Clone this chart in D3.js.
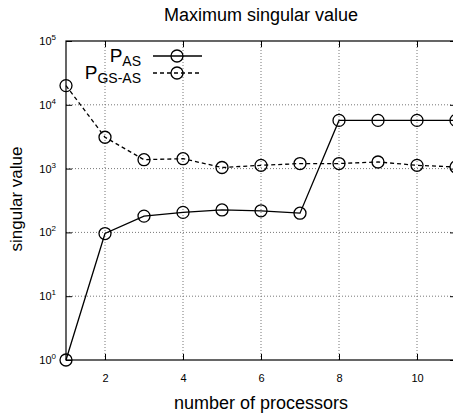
<!DOCTYPE html>
<html>
<head>
<meta charset="utf-8">
<script src="https://cdn.jsdelivr.net/npm/d3@7"></script>
<style>
  body { margin: 0; background: #fff; }
  svg { display: block; font-family: "Liberation Sans", Arial, sans-serif; }
</style>
</head>
<body>
<div id="chart"></div>
<script>
//----------------------------
// Data
//----------------------------

var processors = [1, 2, 3, 4, 5, 6, 7, 8, 9, 10, 11];
var pAS = [1, 96, 180, 206, 225, 218, 200, 5700, 5700, 5700, 5700];
var pGSAS = [20000, 3100, 1380, 1430, 1040, 1125, 1200, 1200, 1270, 1125, 1060];
var xTicks = [2, 4, 6, 8, 10];
var yTicks = [1, 10, 100, 1000, 10000, 100000];

//----------------------------
// Layout
//----------------------------

var w = 453, h = 414;
var plotLeft = 66, plotRight = 456, plotTop = 41, plotBottom = 360;

var svg = d3.select("#chart")
    .append("svg")
    .attr("width", w)
    .attr("height", h);

var x = d3.scaleLinear().domain([1, 11]).range([plotLeft, plotRight]);
var y = d3.scaleLog().domain([1, 100000]).range([plotBottom, plotTop]);

//----------------------------
// Grid
//----------------------------

svg.append("g")
    .selectAll("line")
    .data(xTicks)
    .enter()
    .append("line")
    .attr("x1", d => x(d)).attr("x2", d => x(d))
    .attr("y1", plotTop).attr("y2", plotBottom)
    .attr("stroke", "#777")
    .attr("stroke-dasharray", "1,2");

svg.append("g")
    .selectAll("line")
    .data(yTicks.slice(1, -1))
    .enter()
    .append("line")
    .attr("x1", plotLeft).attr("x2", plotRight)
    .attr("y1", d => y(d)).attr("y2", d => y(d))
    .attr("stroke", "#777")
    .attr("stroke-dasharray", "1,2");

//----------------------------
// Frame and ticks
//----------------------------

svg.append("rect")
    .attr("x", plotLeft).attr("y", plotTop)
    .attr("width", plotRight - plotLeft).attr("height", plotBottom - plotTop)
    .attr("fill", "none")
    .attr("stroke", "#000")
    .attr("stroke-width", 1.2);

var xAxis = svg.append("g")
    .attr("transform", "translate(0," + plotBottom + ")")
    .call(d3.axisBottom(x).tickValues(xTicks).tickSizeInner(-6).tickSizeOuter(0).tickPadding(14));
xAxis.select(".domain").remove();
xAxis.selectAll("text").attr("font-size", 11).attr("font-family", "Liberation Sans, Arial, sans-serif");

var xTop = svg.append("g")
    .attr("transform", "translate(0," + plotTop + ")")
    .call(d3.axisTop(x).tickValues(xTicks).tickSize(-6).tickFormat(""));
xTop.select(".domain").remove();

var yAxis = svg.append("g")
    .attr("transform", "translate(" + plotLeft + ",0)")
    .call(d3.axisLeft(y).tickValues(yTicks).tickSizeInner(-6).tickSizeOuter(0).tickFormat(""));
yAxis.select(".domain").remove();

var yLabels = svg.append("g")
    .selectAll("text")
    .data(yTicks)
    .enter()
    .append("text")
    .attr("x", plotLeft - 10)
    .attr("y", d => y(d) + 4)
    .attr("text-anchor", "end")
    .attr("font-size", 11);
yLabels.append("tspan").text("10");
yLabels.append("tspan")
    .attr("dy", -5)
    .attr("font-size", 8)
    .text(d => Math.round(Math.log10(d)));

var yRight = svg.append("g")
    .attr("transform", "translate(" + plotRight + ",0)")
    .call(d3.axisRight(y).tickValues(yTicks).tickSize(-6).tickFormat(""));
yRight.select(".domain").remove();

//----------------------------
// Series
//----------------------------

var line = d3.line()
    .x((d, i) => x(processors[i]))
    .y(d => y(d));

function drawSeries(values, dash) {
    svg.append("path")
        .datum(values)
        .attr("fill", "none")
        .attr("stroke", "#000")
        .attr("stroke-width", 1.3)
        .attr("stroke-dasharray", dash)
        .attr("d", line);

    svg.append("g")
        .selectAll("circle")
        .data(values)
        .enter()
        .append("circle")
        .attr("cx", (d, i) => x(processors[i]))
        .attr("cy", d => y(d))
        .attr("r", 6)
        .attr("fill", "none")
        .attr("stroke", "#000")
        .attr("stroke-width", 1.3);
}

drawSeries(pGSAS, "4,3");
drawSeries(pAS, null);

//----------------------------
// Legend
//----------------------------

var legend = [
    { name: "AS", dash: null, y: 56 },
    { name: "GS-AS", dash: "4,3", y: 73 }
];

var lg = svg.append("g")
    .selectAll("g")
    .data(legend)
    .enter()
    .append("g");

var lt = lg.append("text")
    .attr("x", 141)
    .attr("y", d => d.y + 6)
    .attr("text-anchor", "end")
    .attr("font-size", 19);
lt.append("tspan").text("P");
lt.append("tspan")
    .attr("dy", 4)
    .attr("font-size", 14)
    .text(d => d.name);

lg.append("line")
    .attr("x1", 153).attr("x2", 202)
    .attr("y1", d => d.y).attr("y2", d => d.y)
    .attr("stroke", "#000")
    .attr("stroke-width", 1.3)
    .attr("stroke-dasharray", d => d.dash);

lg.append("circle")
    .attr("cx", 177)
    .attr("cy", d => d.y)
    .attr("r", 6)
    .attr("fill", "none")
    .attr("stroke", "#000")
    .attr("stroke-width", 1.3);

//----------------------------
// Titles
//----------------------------

svg.append("text")
    .attr("x", 261)
    .attr("y", 21)
    .attr("text-anchor", "middle")
    .attr("font-size", 18)
    .text("Maximum singular value");

svg.append("text")
    .attr("x", 261)
    .attr("y", 409)
    .attr("text-anchor", "middle")
    .attr("font-size", 18)
    .text("number of processors");

svg.append("text")
    .attr("transform", "translate(22,199) rotate(-90)")
    .attr("text-anchor", "middle")
    .attr("font-size", 17)
    .text("singular value");
</script>
</body>
</html>
